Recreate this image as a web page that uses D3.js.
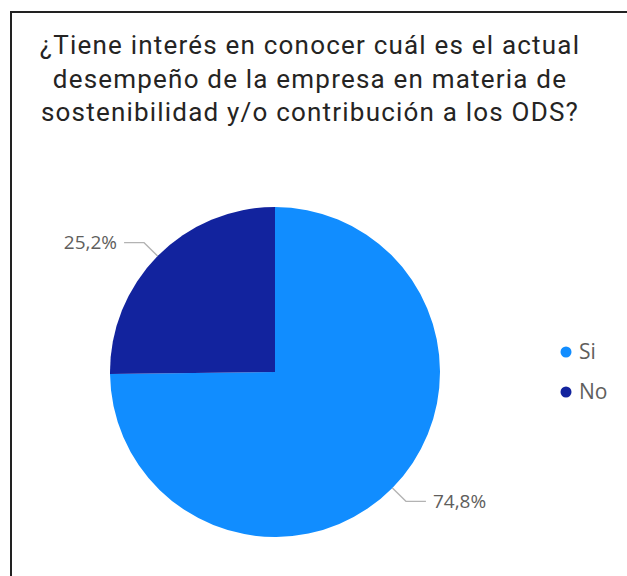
<!DOCTYPE html>
<html><head><meta charset="utf-8">
<script src="https://cdn.jsdelivr.net/npm/d3@7"></script>
<style>body{margin:0;background:#fff;}svg{display:block;}</style>
</head><body>
<svg id="c" width="627" height="576"></svg>
<script>
const categories = ["Si", "No"];
const values = [74.8, 25.2];
const labels = ["74,8%", "25,2%"];
const colors = ["#118DFF", "#12239E"];
const titleLines = ["¿Tiene interés en conocer cuál es el actual", "desempeño de la empresa en materia de", "sostenibilidad y/o contribución a los ODS?"];

const svg = d3.select("#c");
svg.append("rect").attr("x", 11).attr("y", 12).attr("width", 640).attr("height", 600)
  .attr("fill", "none").attr("stroke", "#222").attr("stroke-width", 2);

svg.append("g").selectAll("text").data(titleLines).join("text")
  .attr("x", 310).attr("y", (d, i) => 54 + i * 33.5)
  .attr("text-anchor", "middle")
  .attr("font-family", "Roboto, 'DejaVu Sans', sans-serif")
  .attr("font-size", 26).attr("letter-spacing", 1.2).attr("fill", "#252423")
  .text(d => d);

const cx = 275, cy = 372, r = 165;
const data = categories.map((c, i) => ({ cat: c, value: values[i], label: labels[i], color: colors[i] }));
const pie = d3.pie().value(d => d.value).sort(null);
const arcs = pie(data);
const arc = d3.arc().innerRadius(0).outerRadius(r);
const g = svg.append("g").attr("transform", `translate(${cx},${cy})`);
g.selectAll("path").data(arcs).join("path").attr("d", arc).attr("fill", d => d.data.color);

arcs.forEach(a => {
  const m = (a.startAngle + a.endAngle) / 2;
  const sx = Math.sin(m), sy = -Math.cos(m);
  const p0 = [r * sx, r * sy];
  const p1 = [(r + 19) * sx, (r + 19) * sy];
  const dir = sx >= 0 ? 1 : -1;
  const p2 = [p1[0] + dir * 20, p1[1]];
  g.append("polyline").attr("points", [p0, p1, p2].map(p => p.join(",")).join(" "))
    .attr("fill", "none").attr("stroke", "#b3b3b3").attr("stroke-width", 1.3);
  g.append("text").attr("x", p2[0] + dir * 7).attr("y", p2[1])
    .attr("dy", "0.35em").attr("text-anchor", dir > 0 ? "start" : "end")
    .attr("font-family", "'Open Sans', 'DejaVu Sans', sans-serif").attr("font-size", 19)
    .attr("fill", "#605E5C").text(a.data.label);
});

const leg = svg.append("g").selectAll("g").data(data).join("g")
  .attr("transform", (d, i) => `translate(566,${352 + i * 40})`);
leg.append("circle").attr("r", 5.5).attr("fill", d => d.color);
leg.append("text").attr("x", 13).attr("dy", "0.35em")
  .attr("font-family", "'Open Sans', 'DejaVu Sans', sans-serif").attr("font-size", 21)
  .attr("fill", "#605E5C").text(d => d.cat);
</script>
</body></html>
